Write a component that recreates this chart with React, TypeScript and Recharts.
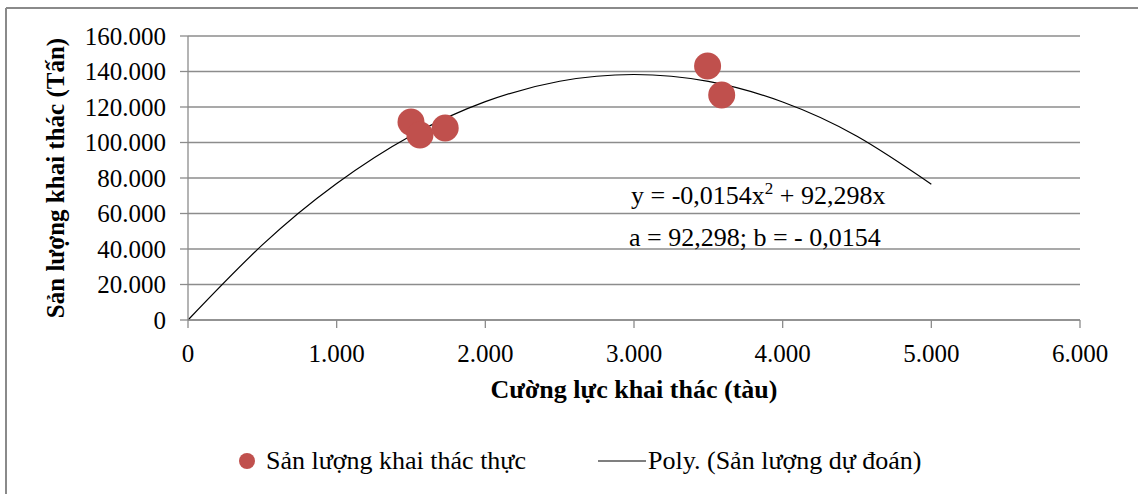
import React from 'react';
import { ComposedChart, Line, Scatter, XAxis, YAxis, CartesianGrid, Label } from 'recharts';

document.body.style.margin = '0';

const FONT = '"Liberation Serif", "Times New Roman", serif';
const GRID = '#8c8c8c';
const RED = '#c0504d';

// tick values
const xTicks = [0, 1000, 2000, 3000, 4000, 5000, 6000];
const yTicks = [0, 20000, 40000, 60000, 80000, 100000, 120000, 140000, 160000];

// observed catch vs. effort
const actualEffort = [1500, 1560, 1730, 3495, 3590];
const actualCatch = [111500, 104200, 108200, 143100, 126800];

// trendline values
const trendEffort = [0, 500, 1000, 1500, 2000, 2500, 3000, 3500, 4000, 4500, 5000];
const trendCatch = [0, 42300, 76900, 103800, 123000, 134500, 138300, 134400, 122800, 103500, 76500];

const actualData = actualEffort.map((x, i) => ({ x, y: actualCatch[i] }));
const trendData = trendEffort.map((x, i) => ({ x, y: trendCatch[i] }));

const fmt = (v: number) => String(v).replace(/\B(?=(\d{3})+(?!\d))/g, '.');

const tickStyle = { fill: '#000', fontSize: 25, fontFamily: FONT };

const Dot = (props: any) => <circle cx={props.cx} cy={props.cy} r={13.5} fill={RED} />;

export default function App() {
  return (
    <div style={{ position: 'relative', width: 1138, height: 494, background: '#fff', fontFamily: FONT }}>
      <ComposedChart
        width={1138}
        height={494}
        data={trendData}
        margin={{ top: 36, right: 58, bottom: 0, left: 0 }}
      >
        <CartesianGrid vertical={false} stroke={GRID} strokeWidth={1.3} />
        <XAxis
          type="number"
          dataKey="x"
          domain={[0, 6000]}
          ticks={xTicks}
          tickFormatter={fmt}
          height={174}
          tickSize={8}
          tickMargin={16}
          axisLine={{ stroke: GRID, strokeWidth: 1.3 }}
          tickLine={{ stroke: GRID, strokeWidth: 1.3 }}
          tick={tickStyle}
        >
          <Label
            content={({ viewBox }: any) => (
              <text
                x={viewBox.x + viewBox.width / 2}
                y={viewBox.y + 78}
                textAnchor="middle"
                fontFamily={FONT}
                fontWeight="bold"
                fontSize={26}
                fill="#000"
              >
                Cường lực khai thác (tàu)
              </text>
            )}
          />
        </XAxis>
        <YAxis
          type="number"
          domain={[0, 160000]}
          ticks={yTicks}
          tickFormatter={fmt}
          width={188}
          tickSize={8}
          tickMargin={14}
          axisLine={{ stroke: GRID, strokeWidth: 1.3 }}
          tickLine={{ stroke: GRID, strokeWidth: 1.3 }}
          tick={tickStyle}
        >
          <Label
            content={({ viewBox }: any) => (
              <text
                transform={`translate(${viewBox.x + 55}, ${viewBox.y + viewBox.height / 2}) rotate(-90)`}
                textAnchor="middle"
                dominantBaseline="central"
                fontFamily={FONT}
                fontWeight="bold"
                fontSize={25}
                fill="#000"
              >
                Sản lượng khai thác (Tấn)
              </text>
            )}
          />
        </YAxis>
        <Line
          type="natural"
          dataKey="y"
          stroke="#000"
          strokeWidth={1.2}
          dot={false}
          activeDot={false}
          isAnimationActive={false}
        />
        <Scatter data={actualData} dataKey="y" fill={RED} shape={Dot} isAnimationActive={false} />
      </ComposedChart>
      <svg
        width={1138}
        height={494}
        style={{ position: 'absolute', left: 0, top: 0, pointerEvents: 'none' }}
        fontFamily={FONT}
      >
        <line x1={6} y1={8} x2={1138} y2={8} stroke="#8a8a8a" strokeWidth={2} />
        <line x1={6} y1={8} x2={6} y2={494} stroke="#8a8a8a" strokeWidth={2} />
        <text x={631} y={204} fontSize={26} fill="#000">
          y = -0,0154x<tspan dy={-10} fontSize={17}>2</tspan>
          <tspan dy={10}> + 92,298x</tspan>
        </text>
        <text x={629} y={246} fontSize={26} fill="#000">
          a = 92,298; b = - 0,0154
        </text>
        <circle cx={247} cy={461} r={8} fill={RED} />
        <text x={266} y={469} fontSize={26} fill="#000">
          Sản lượng khai thác thực
        </text>
        <line x1={598} y1={461} x2={646} y2={461} stroke="#000" strokeWidth={1.2} />
        <text x={648} y={469} fontSize={26} fill="#000">
          Poly. (Sản lượng dự đoán)
        </text>
      </svg>
    </div>
  );
}
